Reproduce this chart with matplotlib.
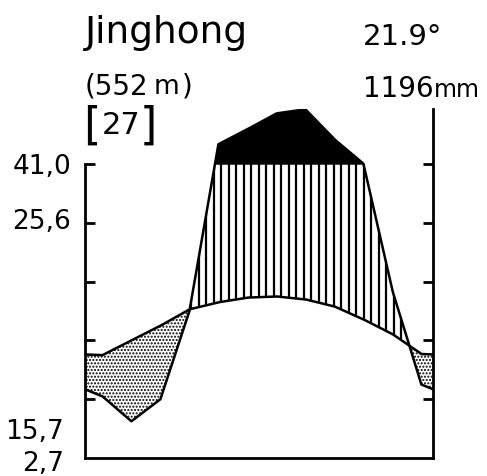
import numpy as np
import matplotlib.pyplot as plt
from matplotlib.path import Path

# monthly values (Jan..Dec)
months = ['Jan', 'Feb', 'Mar', 'Apr', 'May', 'Jun',
          'Jul', 'Aug', 'Sep', 'Oct', 'Nov', 'Dec']
temp = [17.5, 20.0, 22.5, 25.3, 26.5, 27.3, 27.5, 27.0, 25.8, 23.6, 21.1, 17.7]
prec = [21, 12.5, 20, 50, 168, 219, 273, 287, 185, 102, 57, 25]

station = 'Jinghong'
altitude = '552'
years = '27'
mean_temp = '21.9°'
annual_prec = '1196'
left_labels = ['41,0', '25,6', '15,7', '2,7']

W, H = 487, 477


def pscale(p):
    # Walter-Lieth: 10 C = 20 mm, above 100 mm compressed 1/10
    p = np.asarray(p, dtype=float)
    return np.where(p <= 100, p / 2.0, 50 + (p - 100) / 20.0)


def px(x, y):
    return x / W, 1 - y / H


fig = plt.figure(figsize=(W / 100, H / 100), dpi=100)
ax = fig.add_axes([85 / W, 1 - 459 / H, (433 - 85) / W, (459 - 110) / H])

xm = np.arange(12) + 0.6
xf = np.linspace(0, 12, 2401)
tf = np.interp(xf, xm, temp, period=12)
pf = np.interp(xf, xm, pscale(prec), period=12)

# dry season - stippled
ax.fill_between(xf, pf, tf, where=tf >= pf, interpolate=True,
                facecolor='white', edgecolor='black', hatch='.....', linewidth=0)

# humid season - vertical lines
humid = ax.fill_between(xf, tf, pf, where=pf >= tf, interpolate=True,
                        facecolor='none', linewidth=0)
clip = Path.make_compound_path(*humid.get_paths())
vl = ax.vlines(np.arange(0.05, 12, 0.2586), 0, 60, colors='black', linewidth=1.6)
vl.set_clip_path(clip, ax.transData)

# perhumid (> 100 mm) - black
ax.fill_between(xf, 50, pf, where=pf >= 50, interpolate=True, color='black', linewidth=0)

ax.plot(xf, pf, color='black', lw=1.8)
ax.plot(xf, tf, color='black', lw=1.8)

ax.set_xlim(0, 12)
ax.set_ylim(0, 59.4)
ax.spines['top'].set_visible(False)
ax.spines['left'].set_bounds(0, 50)
for s in ['left', 'right', 'bottom']:
    ax.spines[s].set_linewidth(2)
ax.set_xticks([])
ax.set_yticks([10, 20, 30, 40, 50])
ax.tick_params(axis='y', direction='in', left=True, right=True,
               labelleft=False, length=7.5, width=2)

# header
fig.text(*px(85, 43), station, fontsize=27, va='baseline')
fig.text(*px(363, 45), mean_temp, fontsize=21, va='baseline')
fig.text(*px(85, 94), '(' + altitude, fontsize=20, va='baseline')
fig.text(*px(154, 94), 'm', fontsize=19, va='baseline')
fig.text(*px(182, 94), ')', fontsize=20, va='baseline')
fig.text(*px(363, 97), annual_prec, fontsize=20, va='baseline')
fig.text(*px(434, 97), 'mm', fontsize=17, va='baseline')
fig.text(*px(83, 139), '[', fontsize=32, va='baseline')
fig.text(*px(102, 134), years, fontsize=22, va='baseline')
fig.text(*px(140, 139), ']', fontsize=32, va='baseline')

# left labels
fig.text(*px(71, 167), left_labels[0], fontsize=19, ha='right', va='center')
fig.text(*px(71, 222), left_labels[1], fontsize=19, ha='right', va='center')
fig.text(*px(64, 432), left_labels[2], fontsize=19, ha='right', va='center')
fig.text(*px(64, 471), left_labels[3], fontsize=19, ha='right', va='baseline')

fig.savefig('out.png', dpi=100)
